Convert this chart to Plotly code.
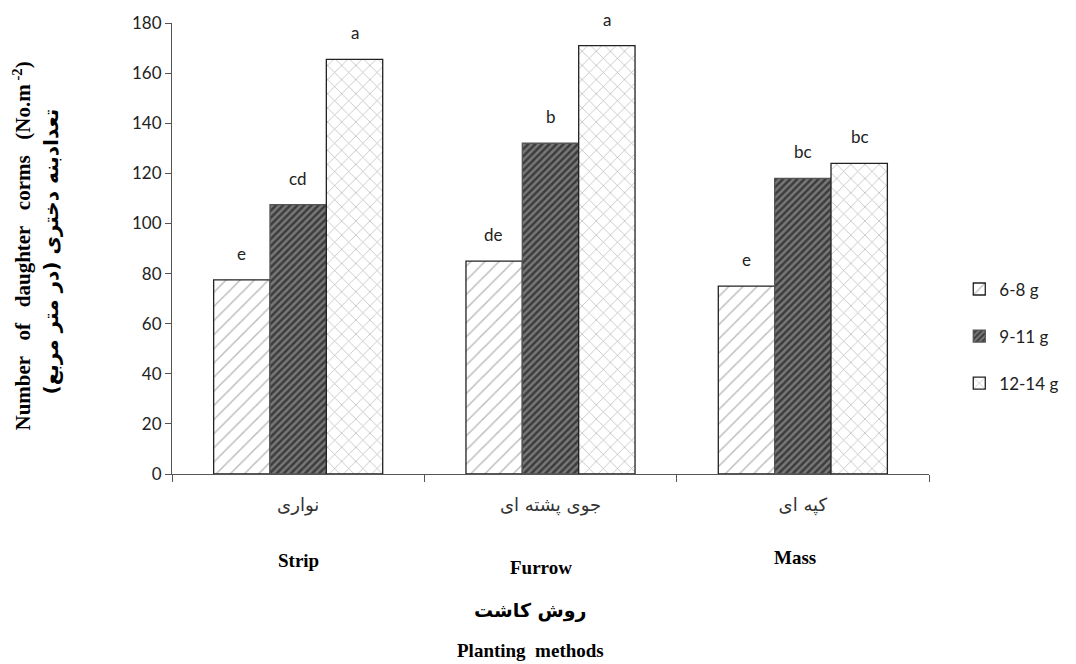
import plotly.graph_objects as go

# Planting methods (Persian tick labels and English names)
methods_fa = ["نواری", "جوی پشته ای", "کپه ای"]
methods_en = ["Strip", "Furrow", "Mass"]

# Mother corm weight classes
sizes = ["6-8 g", "9-11 g", "12-14 g"]

# Number of daughter corms per m2 for each weight class
corms_6_8 = [77.5, 85, 75]
corms_9_11 = [107.5, 132, 118]
corms_12_14 = [165.5, 171, 124]

# Mean comparison letters
letters_6_8 = ["e", "de", "e"]
letters_9_11 = ["cd", "b", "bc"]
letters_12_14 = ["a", "a", "bc"]

values = [corms_6_8, corms_9_11, corms_12_14]
letters = [letters_6_8, letters_9_11, letters_12_14]

patterns = [
    dict(shape="/", fgcolor="#7a7a7a", bgcolor="white", size=10, solidity=0.15),
    dict(shape="/", fgcolor="#b4b4b4", bgcolor="#3c3c3c", size=5, solidity=0.5),
    dict(shape="x", fgcolor="#7a7a7a", bgcolor="white", size=10, solidity=0.15),
]
outlines = ["#222222", "#555555", "#222222"]

label_font = dict(family="Lato, Open Sans, sans-serif", size=17, color="#222222")

BARGAP = 0.33

fig = go.Figure()
for i, name in enumerate(sizes):
    fig.add_trace(go.Bar(
        x=methods_fa,
        y=values[i],
        name=name,
        legendgroup=name,
        marker=dict(color="white", pattern=patterns[i],
                    line=dict(color=outlines[i], width=1.3)),
    ))

fig.update_layout(
    width=1076, height=664,
    margin=dict(l=172, r=141, t=20, b=190),
    paper_bgcolor="white", plot_bgcolor="white",
    barmode="group", bargap=BARGAP, bargroupgap=0,
    showlegend=True,
    legend=dict(x=1.04, y=0.305, xanchor="left", yanchor="middle",
                font=label_font, tracegroupgap=22, itemwidth=30),
    xaxis=dict(
        showline=True, linecolor="#555555", linewidth=1,
        ticks="outside", tickson="boundaries", ticklen=7, tickcolor="#555555",
        tickfont=dict(family="DejaVu Sans, sans-serif", size=18, color="#333333"),
        ticklabelstandoff=14,
        showgrid=False,
    ),
    yaxis=dict(
        range=[0, 180], dtick=20,
        showline=True, linecolor="#555555", linewidth=1,
        ticks="outside", ticklen=6, tickcolor="#555555",
        tickfont=label_font,
        showgrid=False, zeroline=False,
    ),
)

# Mean comparison letters above each bar
plot_w = 1076 - 172 - 141
bar_px = plot_w / len(methods_fa) * (1 - BARGAP) / len(sizes)
for i in range(len(sizes)):
    for j, cat in enumerate(methods_fa):
        fig.add_annotation(
            x=cat, y=values[i][j], xref="x", yref="y",
            yanchor="bottom", yshift=14, xshift=(i - 1) * bar_px,
            text=letters[i][j], showarrow=False, font=label_font,
        )

# English method names under the Persian tick labels
en_shift = [0, -10, -8]
en_yshift = [0, -7, 3]
for j, m in enumerate(methods_en):
    fig.add_annotation(
        x=methods_fa[j], y=0, xref="x", yref="paper",
        yanchor="top", yshift=-74 + en_yshift[j], xshift=en_shift[j],
        text=f"<b>{m}</b>", showarrow=False,
        font=dict(family="Liberation Serif, serif", size=19, color="black"),
    )

# X axis titles (Persian and English)
fig.add_annotation(
    x=0.5, y=0, xref="paper", yref="paper", yanchor="middle",
    yshift=-136, xshift=-20, text="<b>روش کاشت</b>", showarrow=False,
    font=dict(family="DejaVu Sans, sans-serif", size=19, color="black"),
)
fig.add_annotation(
    x=0.5, y=0, xref="paper", yref="paper", yanchor="middle",
    yshift=-176, xshift=-20, text="<b>Planting  methods</b>", showarrow=False,
    font=dict(family="Liberation Serif, serif", size=19, color="black"),
)

# Y axis titles (English and Persian), rotated
fig.add_annotation(
    x=0, y=0.5, xref="paper", yref="paper", xanchor="center",
    xshift=-150, yshift=2, textangle=-90,
    text="<b>Number   of   daughter   corms   (No.m<sup> -2</sup>)</b>", showarrow=False,
    font=dict(family="Liberation Serif, serif", size=21, color="black"),
)
fig.add_annotation(
    x=0, y=0.5, xref="paper", yref="paper", xanchor="center",
    xshift=-122, yshift=-3, textangle=-90,
    text="<b>تعدادبنه دختری (در متر مربع)</b>", showarrow=False,
    font=dict(family="DejaVu Sans, sans-serif", size=20, color="black"),
)

fig.write_html("out.html")
